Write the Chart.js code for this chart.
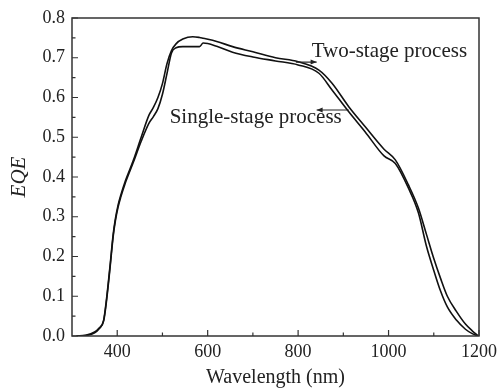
<!DOCTYPE html>
<html>
<head>
<meta charset="utf-8">
<script src="https://cdn.jsdelivr.net/npm/chart.js@4/dist/chart.umd.min.js"></script>
<style>
html,body{margin:0;padding:0;background:#fff;}
#wrap{width:502px;height:391px;}
</style>
</head>
<body>
<div id="wrap"><canvas id="c" width="502" height="391"></canvas></div>
<script>
// Wavelength grid (nm)
const wavelengths = [310,330,350,360,370,376,384,391,396,402,408,417,435,453,470,480,490,500,510,520,530,545,567,582,590,620,655,700,750,800,846,875,912,948,990,1015,1044,1066,1084,1100,1115,1130,1150,1170,1185,1198];
// EQE, two-stage process
const twoStage = [0,0.002,0.01,0.02,0.04,0.09,0.175,0.255,0.295,0.33,0.355,0.387,0.44,0.5,0.555,0.575,0.6,0.635,0.685,0.718,0.735,0.747,0.753,0.751,0.749,0.741,0.728,0.715,0.70,0.69,0.669,0.636,0.577,0.527,0.47,0.443,0.38,0.322,0.255,0.195,0.145,0.1,0.062,0.03,0.013,0.001];
// EQE, single-stage process
const singleStage = [0,0.001,0.008,0.018,0.038,0.085,0.17,0.25,0.29,0.325,0.35,0.382,0.435,0.49,0.535,0.552,0.572,0.608,0.66,0.712,0.725,0.728,0.728,0.728,0.737,0.729,0.714,0.702,0.692,0.682,0.661,0.619,0.564,0.514,0.453,0.434,0.372,0.31,0.225,0.165,0.113,0.073,0.04,0.017,0.006,0];
// Axis ticks
const xTicks = [400,600,800,1000,1200];
const xMinor = [500,700,900,1100];
const yTicks = [0,0.1,0.2,0.3,0.4,0.5,0.6,0.7,0.8];
const yMinor = [0.05,0.15,0.25,0.35,0.45,0.55,0.65,0.75];
// Annotations
const labels = [
  {text:'Two-stage process', x:830, y:0.702, arrowFrom:[795,0.689], arrowTo:[841,0.689]},
  {text:'Single-stage process', x:516, y:0.536, arrowFrom:[912,0.5686], arrowTo:[841,0.5686]}
];

const serif = "'Liberation Serif','Times New Roman',serif";
const axisColor = '#333';

const toPts = arr => wavelengths.map((w,i)=>({x:w,y:arr[i]}));

const decor = {
  id:'decor',
  afterDraw(chart){
    const ctx = chart.ctx, a = chart.chartArea;
    const xs = chart.scales.x, ys = chart.scales.y;
    ctx.save();
    ctx.strokeStyle = axisColor;
    ctx.lineWidth = 1.5;
    ctx.strokeRect(a.left, a.top, a.right-a.left, a.bottom-a.top);
    ctx.lineWidth = 1.2;
    ctx.beginPath();
    xTicks.forEach(v=>{const p=xs.getPixelForValue(v); ctx.moveTo(p,a.bottom); ctx.lineTo(p,a.bottom-6);});
    xMinor.forEach(v=>{const p=xs.getPixelForValue(v); ctx.moveTo(p,a.bottom); ctx.lineTo(p,a.bottom-3.5);});
    yTicks.forEach(v=>{const p=ys.getPixelForValue(v); ctx.moveTo(a.left,p); ctx.lineTo(a.left+6,p);});
    yMinor.forEach(v=>{const p=ys.getPixelForValue(v); ctx.moveTo(a.left,p); ctx.lineTo(a.left+3.5,p);});
    ctx.stroke();
    // annotations
    ctx.fillStyle = '#222';
    ctx.strokeStyle = '#222';
    ctx.font = "21px " + serif;
    ctx.textBaseline = 'alphabetic';
    ctx.textAlign = 'left';
    labels.forEach(l=>{
      ctx.fillText(l.text, xs.getPixelForValue(l.x), ys.getPixelForValue(l.y));
      const x0 = xs.getPixelForValue(l.arrowFrom[0]), y0 = ys.getPixelForValue(l.arrowFrom[1]);
      const x1 = xs.getPixelForValue(l.arrowTo[0]), y1 = ys.getPixelForValue(l.arrowTo[1]);
      ctx.lineWidth = 1.2;
      ctx.beginPath(); ctx.moveTo(x0,y0); ctx.lineTo(x1,y1); ctx.stroke();
      const dir = Math.sign(x1-x0);
      ctx.beginPath();
      ctx.moveTo(x1,y1);
      ctx.lineTo(x1-dir*6,y1-2.5);
      ctx.lineTo(x1-dir*6,y1+2.5);
      ctx.closePath(); ctx.fill();
    });
    ctx.restore();
  }
};

new Chart(document.getElementById('c'), {
  type:'line',
  data:{
    datasets:[
      {label:'Two-stage process', data:toPts(twoStage), borderColor:'#111', borderWidth:1.6, pointRadius:0, tension:0, cubicInterpolationMode:'monotone', fill:false},
      {label:'Single-stage process', data:toPts(singleStage), borderColor:'#111', borderWidth:1.6, pointRadius:0, tension:0, cubicInterpolationMode:'monotone', fill:false}
    ]
  },
  options:{
    responsive:false,
    animation:false,
    layout:{padding:{left:0,right:20,top:18,bottom:0}},
    plugins:{legend:{display:false}, tooltip:{enabled:false}},
    scales:{
      x:{
        type:'linear', min:300, max:1200,
        afterBuildTicks(s){ s.ticks = xTicks.map(v=>({value:v})); },
        afterFit(s){ s.height = 55; },
        grid:{display:false, drawTicks:false},
        border:{display:false},
        ticks:{color:'#222', font:{family:serif,size:18}, padding:5, maxRotation:0, callback:v=>String(v)},
        title:{display:true, text:'Wavelength (nm)', color:'#222', font:{family:serif,size:20}, padding:{top:0,bottom:1}}
      },
      y:{
        type:'linear', min:0, max:0.8,
        afterBuildTicks(s){ s.ticks = yTicks.map(v=>({value:v})); },
        afterFit(s){ s.width = 72; },
        grid:{display:false, drawTicks:false},
        border:{display:false},
        ticks:{color:'#222', font:{family:serif,size:18}, padding:7, callback:v=>Number(v).toFixed(1)},
        title:{display:true, text:'EQE', color:'#222', font:{family:serif,size:21,style:'italic'}, padding:{top:7,bottom:0}}
      }
    }
  },
  plugins:[decor]
});
</script>
</body>
</html>
